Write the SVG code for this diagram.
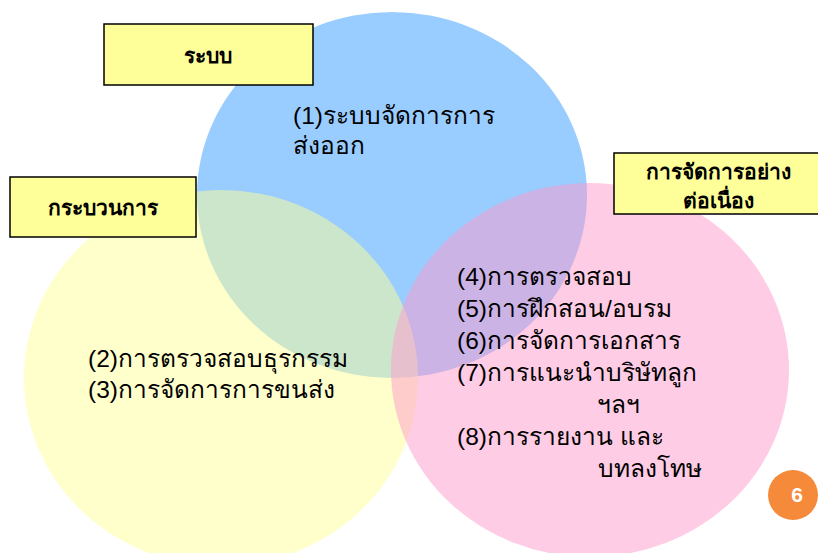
<svg xmlns="http://www.w3.org/2000/svg" width="818" height="553" viewBox="0 0 818 553">
<defs>
<style>
.lbl{font-family:"Liberation Sans","Noto Sans","DejaVu Sans",sans-serif;font-size:21px;font-weight:bold;fill:#000;text-anchor:middle}
.txt{font-family:"Liberation Sans","Noto Sans","DejaVu Sans",sans-serif;font-size:24.5px;fill:#000}
.box{fill:#FFFF99;stroke:#000;stroke-width:1.5}
</style>
</defs>
<rect width="818" height="553" fill="#fff"/>
<g id="circles">
<ellipse id="c-blue" cx="392" cy="195" rx="195" ry="183" fill="#3399FF" fill-opacity="0.5"/>
<ellipse id="c-yellow" cx="221" cy="378" rx="197" ry="188" fill="#FFFF99" fill-opacity="0.5"/>
<ellipse id="c-pink" cx="590" cy="370" rx="199" ry="187" fill="#FF99CC" fill-opacity="0.5"/>
</g>
<g id="connectors"></g>
<g id="box-system">
<rect class="box" x="104" y="24" width="209" height="61"/>
<text class="lbl" x="208" y="63">ระบบ</text>
</g>
<g id="box-process">
<rect class="box" x="10" y="177" width="186" height="60"/>
<text class="lbl" x="103" y="215">กระบวนการ</text>
</g>
<g id="box-continuous">
<rect class="box" x="614" y="153" width="210" height="61"/>
<text class="lbl" x="718" y="179">การจัดการอย่าง</text>
<text class="lbl" x="718" y="208">ต่อเนื่อง</text>
</g>
<g id="text-blue">
<text class="txt" x="293" y="124">(1)ระบบจัดการการ</text>
<text class="txt" x="293" y="154">ส่งออก</text>
</g>
<g id="text-yellow">
<text class="txt" x="88" y="367">(2)การตรวจสอบธุรกรรม</text>
<text class="txt" x="88" y="398">(3)การจัดการการขนส่ง</text>
</g>
<g id="text-pink">
<text class="txt" x="457" y="285">(4)การตรวจสอบ</text>
<text class="txt" x="457" y="317">(5)การฝึกสอน/อบรม</text>
<text class="txt" x="457" y="349">(6)การจัดการเอกสาร</text>
<text class="txt" x="457" y="381">(7)การแนะนำบริษัทลูก</text>
<text class="txt" x="597" y="413">ฯลฯ</text>
<text class="txt" x="457" y="445">(8)การรายงาน และ</text>
<text class="txt" x="598" y="477">บทลงโทษ</text>
</g>
<g id="page-number">
<circle cx="793" cy="495" r="25" fill="#F68A3B"/>
<text x="797" y="502" font-family="Liberation Sans, sans-serif" font-size="21" font-weight="bold" fill="#fff" text-anchor="middle">6</text>
</g>
</svg>
